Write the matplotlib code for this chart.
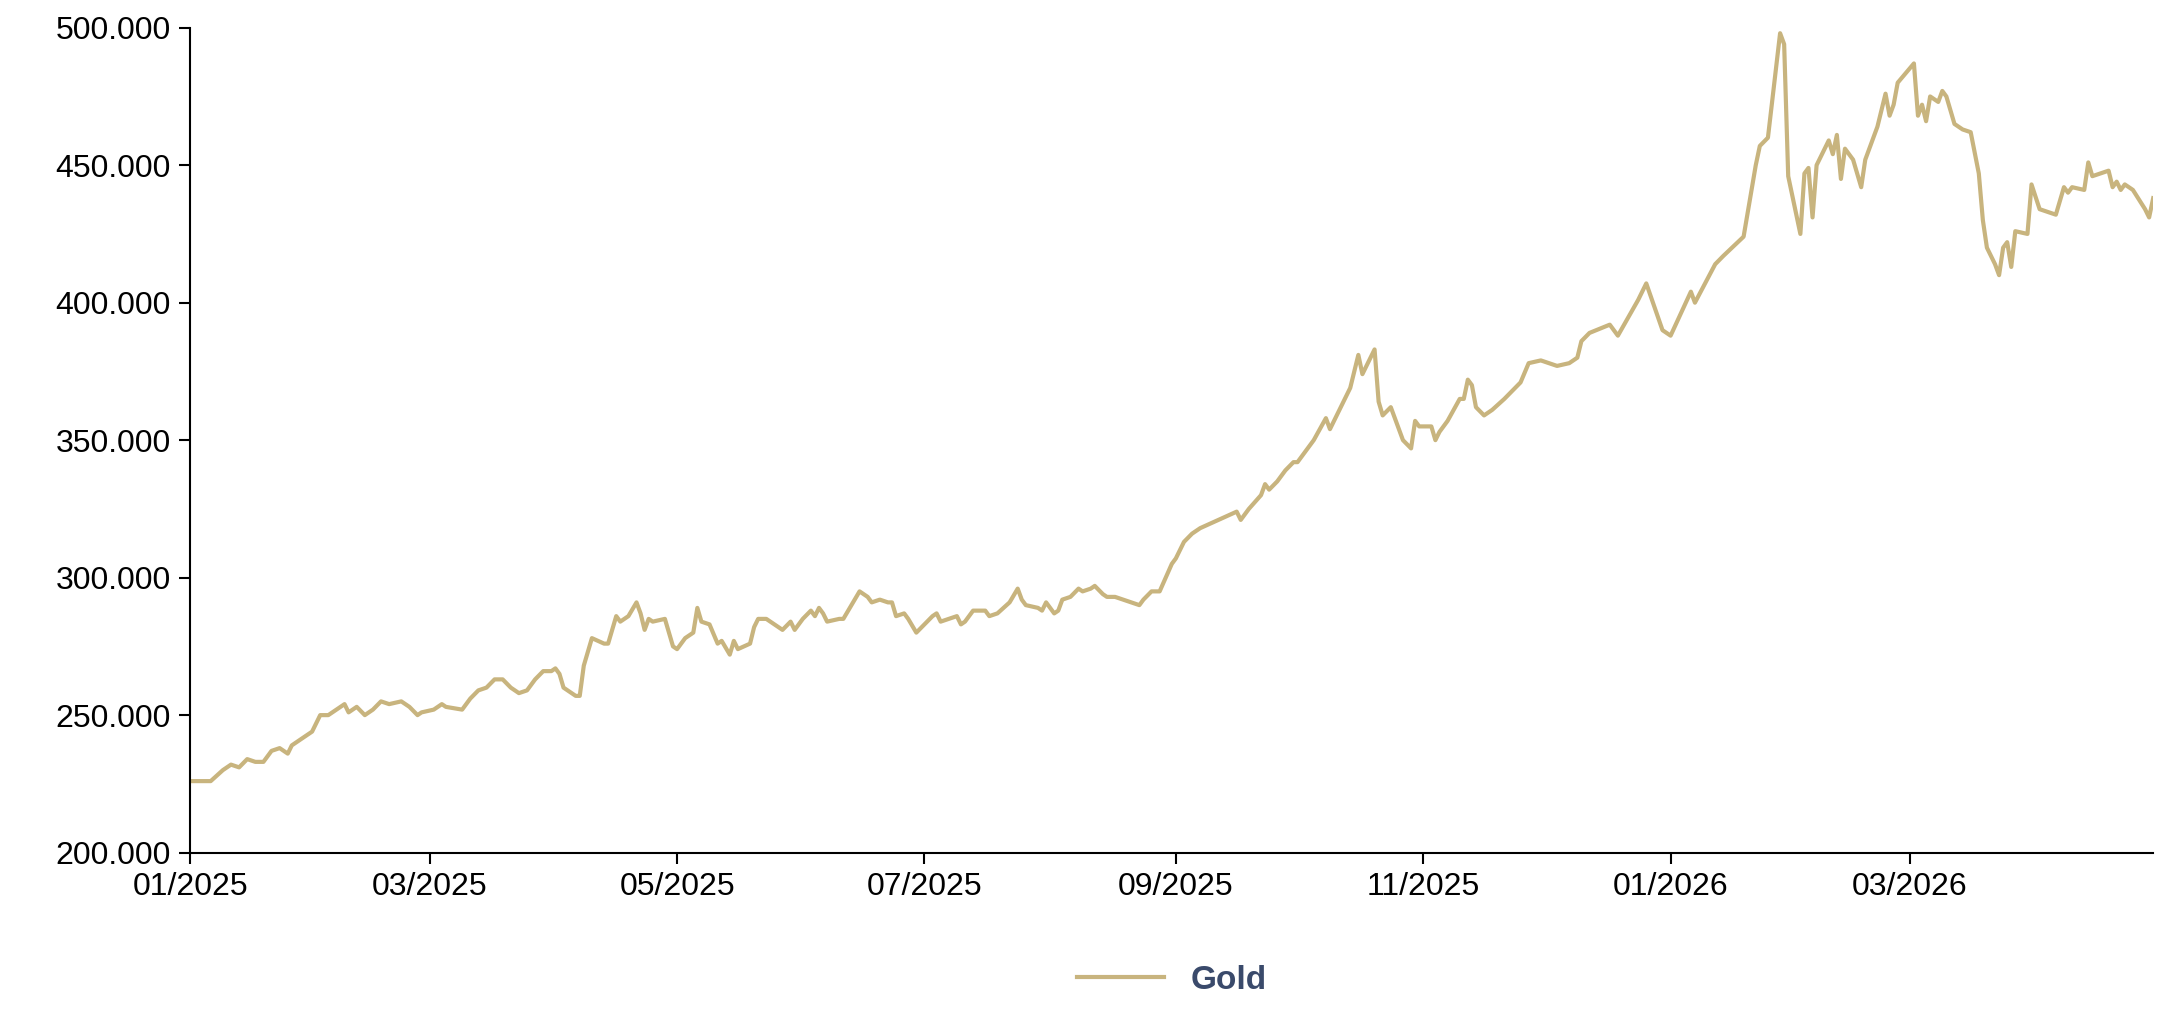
import datetime as dt
import matplotlib
matplotlib.use("Agg")
import matplotlib.pyplot as plt
import matplotlib.dates as mdates
from matplotlib.ticker import FuncFormatter

plt.rcParams['font.family'] = ['Liberation Sans', 'DejaVu Sans']

# days since 2025-01-01, and gold value
days = [0, 3, 5, 8, 10, 12, 14, 16, 18, 20, 22, 24, 25, 27, 30, 32, 34, 38, 39, 41, 43, 45, 47, 49, 52, 54, 56, 57, 60, 62,
        63, 67, 69, 71, 73, 75, 77, 79, 81, 83, 85, 87, 89, 90, 91, 92, 95, 96, 97, 99, 102, 103, 105, 106, 108, 110, 111, 112, 113, 114,
        117, 119, 120, 122, 124, 125, 126, 128, 130, 131, 133, 134, 135, 138, 139, 140, 142, 144, 146, 148, 149, 151, 153, 154, 155, 156, 157, 160, 161, 163,
        165, 167, 168, 170, 172, 173, 174, 176, 177, 179, 181, 183, 184, 185, 189, 190, 191, 193, 196, 197, 199, 202, 204, 205, 206, 209, 210, 211, 213, 214,
        215, 217, 219, 220, 222, 223, 225, 226, 228, 230, 232, 234, 235, 237, 239,
        242, 243, 245, 247, 249, 252, 255, 258, 259, 261, 264, 265, 266, 268, 270, 272, 273, 275, 277, 280, 281, 286, 288, 289, 292, 293, 294, 296, 299, 301,
        302, 303, 306, 307, 308, 310, 313, 314, 315, 316, 317, 319, 321, 324, 326, 328, 330, 333, 335, 337, 340, 342, 343, 345, 350, 352, 357, 359, 363, 365,
        370, 371, 376, 378, 383, 386, 387, 389, 392, 393, 394, 397, 398, 399, 400, 401, 404, 405, 406, 407, 408, 410, 412, 413, 414, 416, 418, 419, 420, 421,
        425, 426, 427, 428, 429, 431, 432, 433, 435, 437, 439, 441, 442, 443, 445, 446, 447, 448, 449, 450, 453, 454, 456, 458, 460, 462, 463, 464, 467, 468,
        469, 471, 473, 474, 475, 476, 477, 479, 482, 483, 484]
gold = [226, 226, 226, 230, 232, 231, 234, 233, 233, 237, 238, 236, 239, 241, 244, 250, 250, 254, 251, 253, 250, 252, 255, 254, 255, 253, 250, 251, 252, 254,
        253, 252, 256, 259, 260, 263, 263, 260, 258, 259, 263, 266, 266, 267, 265, 260, 257, 257, 268, 278, 276, 276, 286, 284, 286, 291, 287, 281, 285, 284,
        285, 275, 274, 278, 280, 289, 284, 283, 276, 277, 272, 277, 274, 276, 282, 285, 285, 283, 281, 284, 281, 285, 288, 286, 289, 287, 284, 285, 285, 290,
        295, 293, 291, 292, 291, 291, 286, 287, 285, 280, 283, 286, 287, 284, 286, 283, 284, 288, 288, 286, 287, 291, 296, 292, 290, 289, 288, 291, 287, 288,
        292, 293, 296, 295, 296, 297, 294, 293, 293, 292, 291, 290, 292, 295, 295,
        305, 307, 313, 316, 318, 320, 322, 324, 321, 325, 330, 334, 332, 335, 339, 342, 342, 346, 350, 358, 354, 369, 381, 374, 383, 364, 359, 362, 350, 347,
        357, 355, 355, 350, 353, 357, 365, 365, 372, 370, 362, 359, 361, 365, 368, 371, 378, 379, 378, 377, 378, 380, 386, 389, 392, 388, 401, 407, 390, 388,
        404, 400, 414, 417, 424, 450, 457, 460, 498, 494, 446, 425, 447, 449, 431, 450, 459, 454, 461, 445, 456, 452, 442, 452, 456, 464, 476, 468, 472, 480,
        487, 468, 472, 466, 475, 473, 477, 475, 465, 463, 462, 447, 430, 420, 414, 410, 420, 422, 413, 426, 425, 443, 434, 433, 432, 442, 440, 442, 441, 451,
        446, 447, 448, 442, 444, 441, 443, 441, 434, 431, 438]

start = dt.date(2025, 1, 1)
dates = [start + dt.timedelta(days=d) for d in days]
tick_dates = [dt.date(2025, m, 1) for m in (1, 3, 5, 7, 9, 11)] + [dt.date(2026, 1, 1), dt.date(2026, 3, 1)]

fig = plt.figure(figsize=(21.64, 10.26), dpi=100)
ax = fig.add_axes([0.088, 0.169, 0.907, 0.804])
ax.plot(dates, gold, color='#C8B47E', lw=3, label='Gold')

ax.set_ylim(200, 500)
ax.set_yticks(range(200, 501, 50))
ax.yaxis.set_major_formatter(FuncFormatter(lambda v, p: f"{v:.3f}"))
ax.set_xlim(start, dates[-1])
ax.set_xticks(tick_dates)
ax.xaxis.set_major_formatter(mdates.DateFormatter('%m/%Y'))
for s in ('top', 'right'):
    ax.spines[s].set_visible(False)
for s in ('left', 'bottom'):
    ax.spines[s].set_linewidth(1.5)
ax.tick_params(labelsize=23, length=8, width=1.5, pad=6)

leg = ax.legend(loc='upper center', bbox_to_anchor=(0.5, -0.1), frameon=False,
                fontsize=24, handlelength=2.6)
for t in leg.get_texts():
    t.set_color('#3A4A6B')
    t.set_fontweight('bold')

fig.savefig('out.png')
